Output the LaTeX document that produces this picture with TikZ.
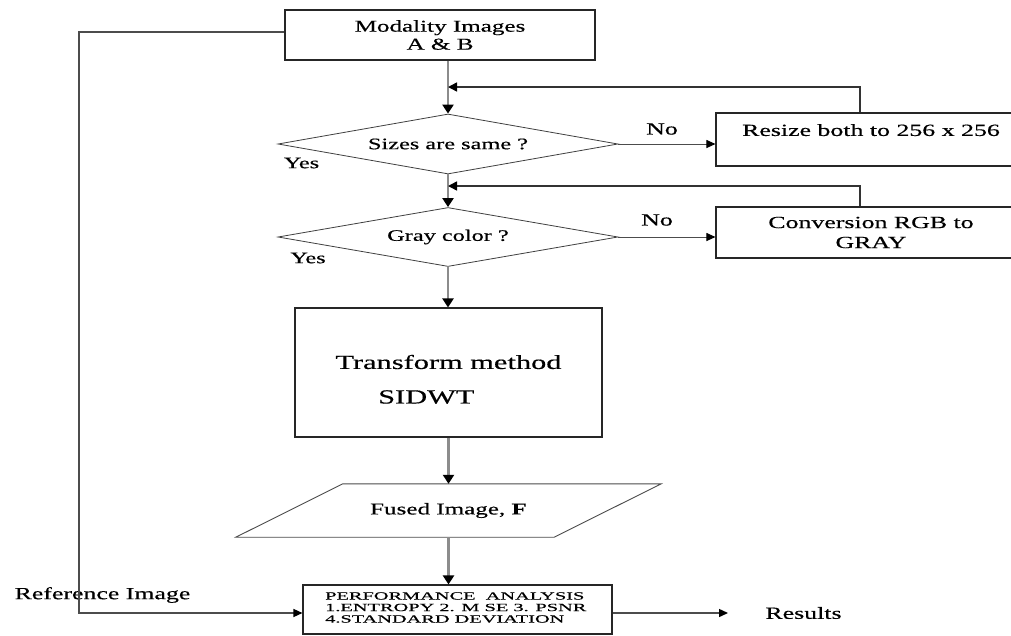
\documentclass[tikz,border=0pt]{standalone}
\usepackage{fontspec}
\setmainfont{Liberation Serif}[FakeStretch=1.52,FakeBold=0.4]
\newfontfamily\pafont{Liberation Serif}[FakeStretch=1.85,FakeBold=0.4]
\usetikzlibrary{shapes.geometric,arrows.meta,calc}
\begin{document}
\begin{tikzpicture}[x=1pt,y=-1pt,
  box/.style={draw=black!85, line width=1.1pt, rectangle, inner sep=0pt},
  dia/.style={draw=black!75, line width=0.8pt, diamond, aspect=5.6, inner sep=0pt},
  txt/.style={font=\fontsize{16}{19}\selectfont, inner sep=0pt},
  bigtxt/.style={font=\fontsize{17}{19}\selectfont, inner sep=0pt},
  main/.style={draw=black!45, line width=2.2pt, -{Triangle[length=9pt,width=11pt,color=black]}},
  fb/.style={draw=black!80, line width=1.5pt, -{Triangle[length=9pt,width=9pt,color=black]}},
  no/.style={draw=black!70, line width=1pt, -{Triangle[length=9pt,width=8pt,color=black]}},
  side/.style={draw=black!70, line width=1.4pt, -{Triangle[length=9pt,width=8pt,color=black]}},
  para/.style={draw=black!70, line width=0.9pt}]
\clip (0,0) rectangle (1011,635);
\fill[white] (0,0) rectangle (1011,635);
% nodes
\node[box, minimum width=310pt, minimum height=50pt, align=center, font=\fontsize{16.5}{18}\selectfont] (top) at (440,35) {Modality Images\\A \& B};
\node[dia, minimum width=340pt, minimum height=60pt, font=\fontsize{16}{19}\selectfont] (d1) at (448,144) {Sizes are same ?};
\node[dia, minimum width=340pt, minimum height=59pt, font=\fontsize{16}{19}\selectfont] (d2) at (448,237) {Gray color ?};
\node[box, minimum width=310pt, minimum height=53pt, align=left, font=\fontsize{17}{19}\selectfont] (rs) at (871,139.5) {Resize both to 256 x 256\\\mbox{}};
\node[box, minimum width=310pt, minimum height=51pt, align=center, font=\fontsize{17}{20}\selectfont] (cv) at (871,232.5) {Conversion RGB to\\GRAY};
\node[box, minimum width=307pt, minimum height=129pt] (tr) at (448.5,372.5) {};
\node[font=\fontsize{20}{24}\selectfont, inner sep=0pt] (t1) at (448.5,362) {Transform method};
\node[font=\fontsize{20}{24}\selectfont, inner sep=0pt, anchor=west] (t2) at (378,397) {SIDWT};
\node[inner sep=0pt, minimum width=318pt, minimum height=53pt, font=\fontsize{16.5}{19}\selectfont] (fu) at (448.5,510.5) {Fused Image, \textbf{F}};
\draw[para] ([xshift=53.5pt]fu.north west) -- ([xshift=53.5pt]fu.north east) -- ([xshift=-53.5pt]fu.south east) -- ([xshift=-53.5pt]fu.south west) -- cycle;
\node[box, minimum width=309pt, minimum height=49pt] (pa) at (457.5,609.5) {};
\node[anchor=west, align=left, inner sep=0pt, font=\pafont\fontsize{11}{11.5}\selectfont] (pat) at (325,607.5) {PERFORMANCE\ \ ANALYSIS\\1.ENTROPY 2. M SE 3. PSNR\\4.STANDARD DEVIATION};
% labels
\node[txt] (y1) at (301.5,163) {Yes};
\node[txt] (y2) at (308,258) {Yes};
\node[bigtxt] (n1) at (662,129) {No};
\node[bigtxt] (n2) at (657,220) {No};
\node[bigtxt] (ref) at (102.5,595) {Reference Image};
\node[bigtxt] (res) at (803.5,613) {Results};
% connectors
\draw[main] (top.south -| d1.north) -- (d1.north);
\coordinate (fb1) at (448,87);
\draw[fb] ([xshift=-11pt]rs.north) |- (fb1);
\draw[no] (d1.east) -- (d1.east -| rs.west);
\draw[main] (d1.south) -- (d2.north);
\coordinate (fb2) at (448,186);
\draw[fb] ([xshift=-11pt]cv.north) |- (fb2);
\draw[no] (d2.east) -- (d2.east -| cv.west);
\draw[main] (d2.south) -- (d2.south |- tr.north);
\draw[main] (tr.south -| fu.north) -- (fu.north);
\draw[main] (fu.south) -- (fu.south |- pa.north);
\coordinate (lc) at (79,32);
\draw[side] (top.west |- lc) -- (lc) |- ([yshift=-3.5pt]pa.west);
\coordinate (re) at (728,613);
\draw[side] ([yshift=-3.5pt]pa.east) -- (re);
\end{tikzpicture}
\end{document}
